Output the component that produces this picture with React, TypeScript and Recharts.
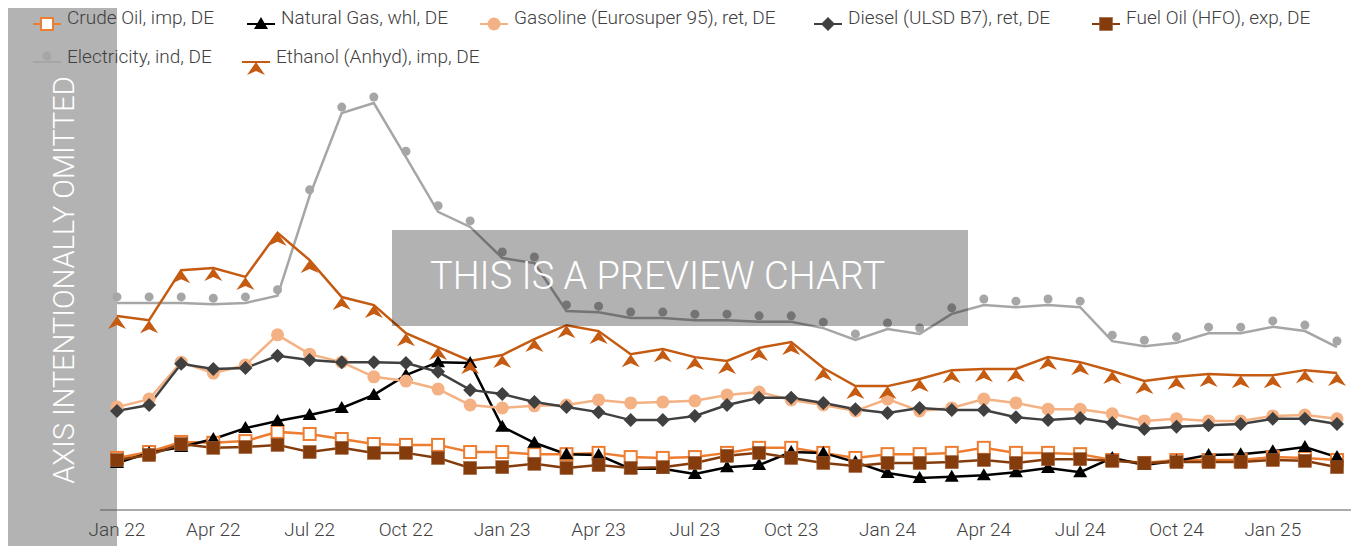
import React from "react";
import { LineChart, Line, XAxis, YAxis } from "recharts";

// monthly observations, Jan 22 .. Mar 25 (index values, axis hidden)
const months = [
  "Jan 22", "Feb 22", "Mar 22", "Apr 22", "May 22", "Jun 22", "Jul 22", "Aug 22", "Sep 22", "Oct 22", "Nov 22", "Dec 22",
  "Jan 23", "Feb 23", "Mar 23", "Apr 23", "May 23", "Jun 23", "Jul 23", "Aug 23", "Sep 23", "Oct 23", "Nov 23", "Dec 23",
  "Jan 24", "Feb 24", "Mar 24", "Apr 24", "May 24", "Jun 24", "Jul 24", "Aug 24", "Sep 24", "Oct 24", "Nov 24", "Dec 24",
  "Jan 25", "Feb 25", "Mar 25",
];

const crudeOil = [
  12.4, 13.8, 16.2, 16.0, 16.4, 18.6, 18.1, 16.9, 15.7, 15.5, 15.5, 13.8,
  13.8, 13.3, 13.3, 13.6, 12.6, 12.4, 12.6, 13.6, 14.8, 14.8, 13.6, 12.4,
  13.3, 13.3, 13.6, 14.8, 13.6, 13.6, 13.3, 11.9, 11.2, 11.9, 11.9, 11.9,
  12.6, 12.4, 11.9,
];
const naturalGas = [
  11.2, 13.6, 15.0, 16.9, 19.5, 21.2, 22.6, 24.3, 27.4, 32.1, 35.2, 35.0,
  19.8, 16.0, 13.3, 13.1, 9.8, 9.8, 8.6, 10.2, 10.7, 13.8, 13.6, 11.4,
  8.8, 7.6, 7.9, 8.3, 9.0, 10.0, 9.0, 12.4, 10.7, 11.7, 13.1, 13.3,
  14.0, 15.0, 12.6,
];
const gasoline = [
  24.5, 26.4, 35.2, 32.6, 34.5, 41.7, 37.1, 35.2, 31.7, 30.7, 28.8, 25.0,
  24.3, 24.8, 25.0, 26.2, 25.5, 25.7, 26.0, 27.4, 28.1, 26.2, 25.0, 23.6,
  26.4, 23.6, 24.3, 26.4, 25.5, 24.0, 24.0, 22.9, 21.2, 21.7, 21.2, 21.2,
  22.4, 22.6, 21.7,
];
const diesel = [
  23.6, 25.0, 34.8, 33.6, 33.8, 36.7, 35.7, 35.2, 35.2, 35.0, 32.9, 28.6,
  27.6, 25.7, 24.5, 23.3, 21.4, 21.4, 22.4, 25.0, 26.7, 26.7, 25.5, 24.0,
  23.1, 24.3, 23.8, 23.8, 22.1, 21.4, 21.9, 20.7, 19.3, 19.8, 20.2, 20.5,
  21.7, 21.7, 20.5,
];
const fuelOil = [
  11.9, 13.1, 15.7, 14.8, 15.0, 15.5, 13.8, 14.8, 13.6, 13.6, 12.4, 10.0,
  10.2, 11.0, 10.0, 10.7, 10.0, 10.2, 11.2, 12.9, 13.6, 12.4, 11.2, 10.5,
  11.2, 11.2, 11.4, 11.9, 11.2, 12.1, 12.1, 11.7, 11.2, 11.4, 11.4, 11.4,
  11.9, 11.7, 10.2,
];
const electricity = [
  49.3, 49.3, 49.3, 49.0, 49.3, 51.0, 74.8, 94.5, 96.9, 84.0, 71.0, 67.4,
  60.0, 58.8, 47.4, 47.1, 45.7, 45.7, 45.2, 45.2, 44.8, 44.8, 43.3, 40.5,
  43.1, 41.9, 46.7, 48.8, 48.3, 48.8, 48.3, 40.2, 39.0, 39.8, 42.1, 42.1,
  43.6, 42.6, 38.8,
];
const ethanol = [
  46.2, 45.2, 57.1, 57.6, 55.5, 66.0, 59.5, 50.7, 48.8, 42.1, 38.8, 35.5,
  36.9, 40.7, 44.0, 42.6, 37.1, 38.3, 36.4, 35.5, 38.6, 40.0, 33.8, 29.5,
  29.5, 31.2, 33.3, 33.6, 33.6, 36.4, 35.2, 33.1, 30.7, 31.7, 32.4, 32.1,
  32.1, 33.3, 32.6,
];

const data = months.map((month, i) => ({
  month,
  crude: crudeOil[i],
  gas: naturalGas[i],
  gasoline: gasoline[i],
  diesel: diesel[i],
  fuel: fuelOil[i],
  elec: electricity[i],
  ethanol: ethanol[i],
}));

const FONT = "Roboto, 'Noto Sans', sans-serif";
const TEXT = "#404040";

// marker shapes, shared by the lines and the legend
const marks: Record<string, (x: number, y: number) => React.ReactElement> = {
  crude: (x, y) => <rect x={x - 6} y={y - 6} width={12} height={12} fill="#fff" stroke="#ED7D31" strokeWidth={2} />,
  gas: (x, y) => <polygon points={`${x},${y - 7} ${x + 7},${y + 5} ${x - 7},${y + 5}`} fill="#000" />,
  gasoline: (x, y) => <circle cx={x} cy={y} r={6.5} fill="#F4B183" />,
  diesel: (x, y) => <polygon points={`${x},${y - 7} ${x + 7},${y} ${x},${y + 7} ${x - 7},${y}`} fill="#404040" />,
  fuel: (x, y) => <rect x={x - 6.5} y={y - 6.5} width={13} height={13} fill="#843C0C" stroke="#A0603A" strokeWidth={0.6} />,
  elec: (x, y) => <circle cx={x} cy={y - 6} r={4.5} fill="#A6A6A6" />,
  ethanol: (x, y) => <polygon points={`${x},${y} ${x + 9},${y + 13} ${x},${y + 9} ${x - 9},${y + 13}`} fill="#C55A11" />,
};

const series = [
  { key: "crude", name: "Crude Oil, imp, DE", color: "#ED7D31" },
  { key: "gas", name: "Natural Gas, whl, DE", color: "#000000" },
  { key: "gasoline", name: "Gasoline (Eurosuper 95), ret, DE", color: "#F4B183" },
  { key: "diesel", name: "Diesel (ULSD B7), ret, DE", color: "#404040" },
  { key: "fuel", name: "Fuel Oil (HFO), exp, DE", color: "#843C0C" },
  { key: "elec", name: "Electricity, ind, DE", color: "#A6A6A6" },
  { key: "ethanol", name: "Ethanol (Anhyd), imp, DE", color: "#C55A11" },
];

// legend layout: icon left edge and row
const legendPos: Record<string, { x: number; row: number }> = {
  crude: { x: 33, row: 0 },
  gas: { x: 247, row: 0 },
  gasoline: { x: 480, row: 0 },
  diesel: { x: 814, row: 0 },
  fuel: { x: 1092, row: 0 },
  elec: { x: 33, row: 1 },
  ethanol: { x: 242, row: 1 },
};

const makeDot = (key: string) => (p: any) => {
  if (p.cx == null || p.cy == null) return <g key={`${key}-${p.index}`} />;
  return <g key={`${key}-${p.index}`}>{marks[key](p.cx, p.cy)}</g>;
};

export default function App() {
  return (
    <div style={{ position: "absolute", left: 0, top: 0, width: 1354, height: 546, background: "#fff", overflow: "hidden" }}>
      <svg width={1354} height={546} style={{ position: "absolute", left: 0, top: 0 }}>
        <rect x={8} y={8} width={109} height={538} fill="#B3B3B3" />
        <text
          x={0}
          y={0}
          transform="translate(74,280) rotate(-90)"
          textAnchor="middle"
          fill="#fff"
          fontFamily={FONT}
          fontWeight={300}
          fontSize={29}
        >
          AXIS INTENTIONALLY OMITTED
        </text>
      </svg>

      <div style={{ position: "absolute", left: 0, top: 0 }}>
        <LineChart width={1354} height={546} data={data} margin={{ top: 90, right: 3, bottom: 6, left: 100 }}>
          <YAxis hide domain={[0, 100]} />
          <XAxis
            dataKey="month"
            interval={2}
            padding={{ left: 17, right: 14 }}
            height={30}
            tickLine={false}
            tickMargin={7}
            axisLine={{ stroke: "#595959", strokeWidth: 1 }}
            tick={{ fill: TEXT, fontSize: 19, fontFamily: FONT, fontWeight: 300 }}
          />
          {series.map((s) => (
            <Line
              key={s.key}
              dataKey={s.key}
              name={s.name}
              stroke={s.color}
              strokeWidth={2.5}
              dot={makeDot(s.key)}
              activeDot={false}
              isAnimationActive={false}
            />
          ))}
        </LineChart>
      </div>

      <svg width={1354} height={546} style={{ position: "absolute", left: 0, top: 0, pointerEvents: "none" }}>
        <rect x={392} y={230} width={576} height={96} fill="#000" fillOpacity={0.3} />
        <text x={430} y={289} fill="#fff" fontFamily={FONT} fontWeight={300} fontSize={38}>
          THIS IS A PREVIEW CHART
        </text>

        {series.map((s) => {
          const pos = legendPos[s.key];
          const lineY = pos.row === 0 ? 24 : 62;
          const baseY = pos.row === 0 ? 24 : 63;
          return (
            <g key={s.key}>
              <line x1={pos.x} x2={pos.x + 28} y1={lineY} y2={lineY} stroke={s.color} strokeWidth={2} />
              {marks[s.key](pos.x + 14, lineY)}
              <text x={pos.x + 34} y={baseY} fill={TEXT} fontFamily={FONT} fontWeight={300} fontSize={19}>
                {s.name}
              </text>
            </g>
          );
        })}
      </svg>
    </div>
  );
}
